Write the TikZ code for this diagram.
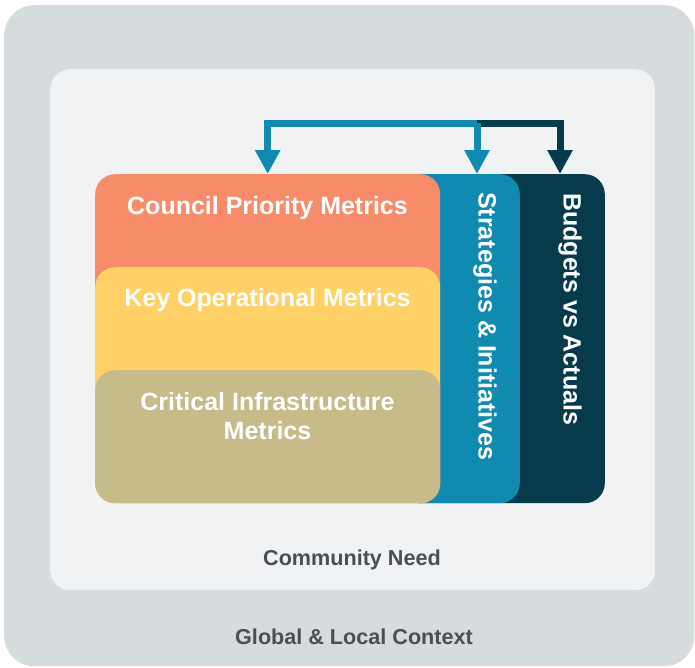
\documentclass[tikz,border=0pt]{standalone}
\usepackage{fontspec}
\setmainfont{Liberation Sans}
\usetikzlibrary{arrows.meta}

\definecolor{contextgray}{HTML}{D6DBDE}
\definecolor{needgray}{HTML}{F1F2F4}
\definecolor{councilred}{HTML}{F78C6B}
\definecolor{keyyellow}{HTML}{FFD166}
\definecolor{infrakhaki}{HTML}{C6BB89}
\definecolor{stratblue}{HTML}{118AB2}
\definecolor{budgetnavy}{HTML}{073B4C}
\definecolor{captiongray}{HTML}{4B4F54}

\tikzset{
  panel/.style    = {rectangle, draw=none, anchor=north west, inner sep=0pt},
  layer/.style    = {panel, rounded corners=20pt},
  tag/.style      = {text=white, font=\bfseries\fontsize{25}{29}\selectfont, inner sep=0pt, align=center},
  uptag/.style    = {tag, rotate=-90, anchor=west},
  caption/.style  = {text=captiongray, font=\bfseries\fontsize{21.6}{26}\selectfont, inner sep=0pt},
  feed/.style     = {line width=7pt, -{Triangle[length=24pt, width=24pt]}}
}

\begin{document}
\begin{tikzpicture}[x=1pt, y=-1pt]

        \useasboundingbox (0,0) rectangle (695,667);

        %Context frames
        \node [panel, fill=contextgray, rounded corners=30pt, minimum width=690pt, minimum height=661pt] (context) at (4,5)  {};
        \node [layer, fill=needgray,    minimum width=605pt, minimum height=521pt] (need)    at (50,69) {};

        %Vertical bars
        \node [layer, fill=budgetnavy, anchor=north east, minimum width=205pt, minimum height=329pt] (budgets)    at (605,174) {};
        \node [layer, fill=stratblue,  anchor=north east, minimum width=120pt, minimum height=329pt] (strategies) at (520,174) {};

        %Metric layers
        \node [layer, fill=councilred, minimum width=345pt, minimum height=329pt] (council) at (95,174) {};
        \node [layer, fill=keyyellow,  minimum width=345pt, minimum height=236pt] (key)     at (95,267) {};
        \node [layer, fill=infrakhaki, minimum width=345pt, minimum height=133pt] (infra)   at (95,370) {};

        \node [tag]   (councillabel) at (267.5,208) {Council Priority Metrics};
        \node [tag]   (keylabel)     at (267.5,300) {Key Operational Metrics};
        \node [tag]   (infralabel)   at (267.5,416) {Critical Infrastructure\\Metrics};
        \node [uptag] (stratlabel)   at (485,192)   {Strategies \& Initiatives};
        \node [uptag] (budgetlabel)  at (570,193)   {Budgets vs Actuals};

        %Captions
        \node [caption] (needlabel)    at (352,560) {Community Need};
        \node [caption] (contextlabel) at (354,637) {Global \& Local Context};

        %Feedback arrows
        \coordinate (hub)  at (477,123);
        \coordinate (drop) at (560,123);
        \draw [feed, draw=budgetnavy] (hub) -- (drop) -- (drop |- budgets.north);
        \draw [feed, draw=stratblue]  (hub) -| (council.north);
        \draw [feed, draw=stratblue]  (hub) -- (hub |- strategies.north);

\end{tikzpicture}
\end{document}
